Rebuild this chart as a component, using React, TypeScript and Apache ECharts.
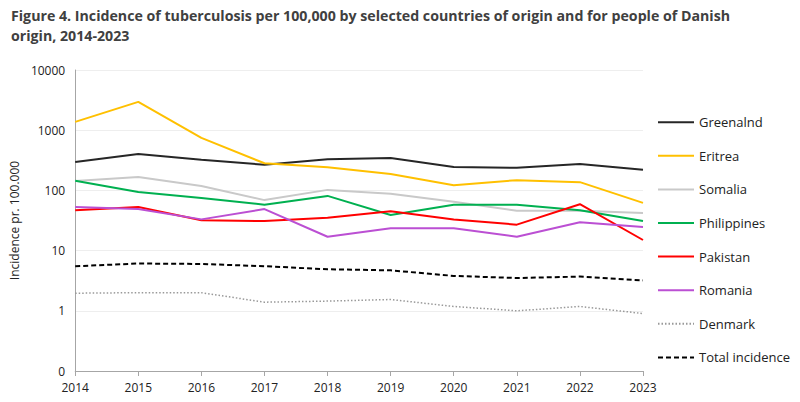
import React, { useEffect, useRef } from "react";
import * as echarts from "echarts";

const years = ["2014", "2015", "2016", "2017", "2018", "2019", "2020", "2021", "2022", "2023"];
const greenland = [297, 403, 324, 267, 329, 345, 244, 238, 274, 220];
const eritrea = [1375, 2960, 745, 282, 242, 187, 122, 148, 137, 62];
const somalia = [143, 167, 118, 69, 102, 88, 65, 46, 46, 42];
const philippines = [145, 94, 75, 58, 81, 39, 58, 58, 47, 31];
const pakistan = [47, 53, 32, 31, 35, 45, 33, 27, 59, 15];
const romania = [53, 49, 33, 49, 17, 23.5, 23.5, 17, 29.6, 24.7];
const denmark = [1.96, 2.0, 2.0, 1.39, 1.45, 1.54, 1.18, 1.0, 1.18, 0.9];
const total = [5.5, 6.1, 6.0, 5.5, 4.9, 4.7, 3.8, 3.5, 3.7, 3.2];

const FONT = "'Open Sans', 'DejaVu Sans', sans-serif";

export default function App() {
  const ref = useRef<HTMLDivElement>(null);
  useEffect(() => {
    if (!ref.current) return;
    const chart = echarts.init(ref.current, undefined, { renderer: "svg" });
    const mk = (name: string, data: number[], color: string, width: number, type: any = "solid") => ({
      name,
      type: "line",
      data,
      symbol: "none",
      smooth: false,
      lineStyle: { color, width, type },
      itemStyle: { color },
    });
    chart.setOption({
      animation: false,
      textStyle: { fontFamily: FONT },
      title: {
        text: "Figure 4. Incidence of tuberculosis per 100,000 by selected countries of origin and for people of Danish\norigin, 2014-2023",
        left: 6,
        top: 0,
        textStyle: { fontFamily: FONT, fontSize: 14.2, fontWeight: "bold", color: "#404040", lineHeight: 20 },
      },
      legend: {
        orient: "vertical",
        left: 652,
        top: 110.7,
        itemWidth: 36,
        itemHeight: 14,
        itemGap: 20.6,
        itemStyle: { opacity: 0 },
        textStyle: { fontFamily: FONT, fontSize: 13, color: "#222" },
        data: ["Greenalnd", "Eritrea", "Somalia", "Philippines", "Pakistan", "Romania", "Denmark", "Total incidence"],
      },
      grid: { left: 72, right: 157, top: 70, bottom: 31, containLabel: false },
      xAxis: {
        type: "category",
        data: years,
        boundaryGap: false,
        axisLine: { lineStyle: { color: "#a6a6a6", width: 1 } },
        axisTick: { show: true, lineStyle: { color: "#a6a6a6" }, length: 5 },
        axisLabel: { color: "#222", fontSize: 12, fontFamily: FONT, margin: 10 },
      },
      yAxis: {
        type: "log",
        logBase: 10,
        min: 0.1,
        max: 10000,
        name: "Incidence pr. 100.000",
        nameLocation: "middle",
        nameGap: 52,
        nameTextStyle: { fontFamily: FONT, fontSize: 12, color: "#222" },
        axisLine: { show: true, lineStyle: { color: "#a6a6a6", width: 1 } },
        axisTick: { show: false },
        splitLine: { show: true, lineStyle: { color: "#eeeeee", width: 1 } },
        axisLabel: {
          color: "#222",
          fontSize: 12,
          fontFamily: FONT,
          margin: 10,
          formatter: (v: number) => (v < 0.5 ? "0" : String(Math.round(v))),
        },
      },
      series: [
        mk("Greenalnd", greenland, "#262626", 2),
        mk("Eritrea", eritrea, "#FFC000", 2),
        mk("Somalia", somalia, "#C9C9C9", 2),
        mk("Philippines", philippines, "#00B050", 2),
        mk("Pakistan", pakistan, "#FF0000", 2),
        mk("Romania", romania, "#BB4FD3", 2),
        mk("Denmark", denmark, "#999999", 1.5, [1.5, 2]),
        mk("Total incidence", total, "#000000", 2, [5, 3]),
      ],
    });
    return () => chart.dispose();
  }, []);
  return <div ref={ref} style={{ width: 800, height: 402, margin: -8 }} />;
}
